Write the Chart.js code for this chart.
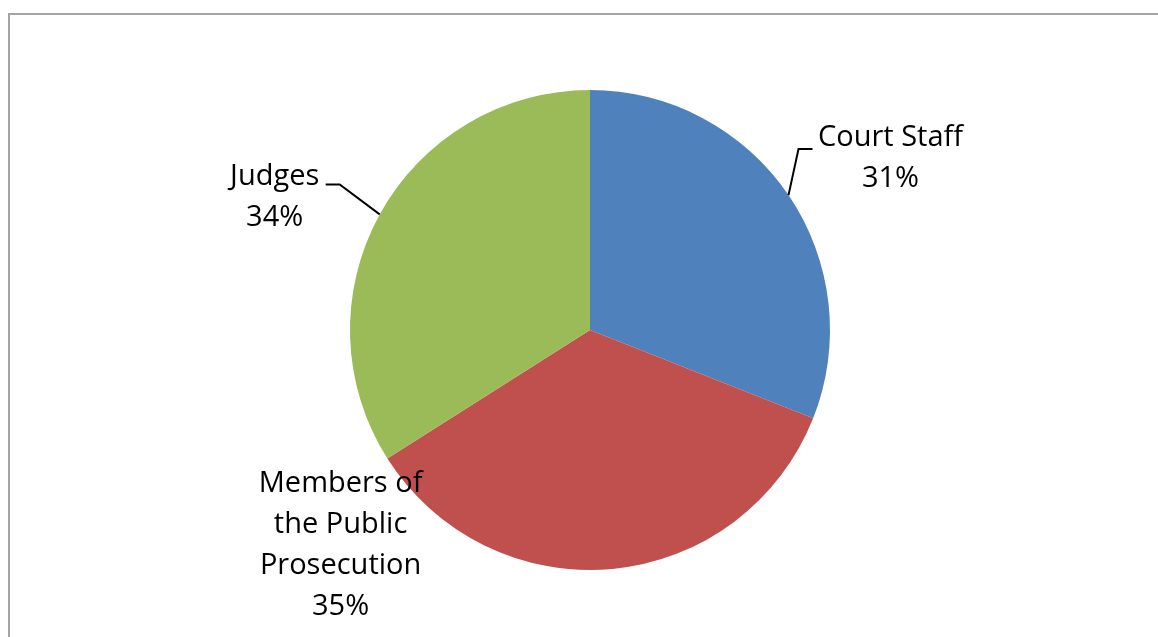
<!DOCTYPE html>
<html>
<head>
<meta charset="utf-8">
<script src="https://cdn.jsdelivr.net/npm/chart.js@4.4.1/dist/chart.umd.min.js"></script>
<style>
    html, body { margin: 0; padding: 0; background: #fff; }
    #wrap { position: relative; width: 1158px; height: 637px; overflow: hidden; }
    #frame {
        position: absolute; left: 8px; top: 13px; width: 1200px; height: 700px;
        border-top: 2px solid #a5a5a5; border-left: 2px solid #a5a5a5;
        box-sizing: border-box;
    }
    canvas { position: absolute; left: 0; top: 0; }
</style>
</head>
<body>
<div id="wrap">
    <div id="frame"></div>
    <canvas id="pie" width="1158" height="637"></canvas>
</div>
<script>
const categories = ['Court Staff', 'Members of the Public Prosecution', 'Judges'];
const shares = [31, 35, 34];
const sliceColors = ['#4f81bd', '#c0504d', '#9bbb59'];

// label text lines per slice (name wrapped like the original)
const labelLines = [
    ['Court Staff'],
    ['Members of', 'the Public', 'Prosecution'],
    ['Judges'],
];

// label block centre relative to the slice's outer mid point, plus leader line bends
const labelLayout = [
    { dx: 102, dy: -37, leader: [[10, -46], [24, -46]] },
    { dx: -272, dy: -24, leader: null },
    { dx: -105, dy: -17, leader: [[-40, -30], [-54, -30]] },
];

const LINE_H = 41;
const FONT = '29px "Open Sans", sans-serif';

const pieLabels = {
    id: 'pieLabels',
    afterDatasetsDraw(chart) {
        const ctx = chart.ctx;
        const meta = chart.getDatasetMeta(0);
        const total = shares.reduce((a, b) => a + b, 0);
        ctx.save();
        ctx.font = FONT;
        ctx.fillStyle = '#000';
        ctx.textAlign = 'center';
        ctx.textBaseline = 'middle';
        meta.data.forEach((arc, i) => {
            const mid = (arc.startAngle + arc.endAngle) / 2;
            const ax = arc.x + Math.cos(mid) * arc.outerRadius;
            const ay = arc.y + Math.sin(mid) * arc.outerRadius;
            const lay = labelLayout[i];

            if (lay.leader) {
                ctx.beginPath();
                ctx.strokeStyle = '#000';
                ctx.lineWidth = 2;
                ctx.moveTo(ax, ay);
                lay.leader.forEach(([lx, ly]) => ctx.lineTo(ax + lx, ay + ly));
                ctx.stroke();
            }

            const pct = Math.round(shares[i] / total * 100) + '%';
            const lines = labelLines[i].concat([pct]);
            const cx = ax + lay.dx;
            let cy = ay + lay.dy - (lines.length - 1) * LINE_H / 2;
            lines.forEach(t => {
                ctx.fillText(t, cx, cy);
                cy += LINE_H;
            });
        });
        ctx.restore();
    }
};

new Chart(document.getElementById('pie'), {
    type: 'pie',
    data: {
        labels: categories,
        datasets: [{
            data: shares,
            backgroundColor: sliceColors,
            borderWidth: 0,
            hoverOffset: 0,
        }],
    },
    options: {
        responsive: false,
        animation: false,
        layout: { padding: { left: 350, right: 328, top: 90, bottom: 67 } },
        plugins: {
            legend: { display: false },
            tooltip: { enabled: false },
        },
    },
    plugins: [pieLabels],
});
</script>
</body>
</html>
